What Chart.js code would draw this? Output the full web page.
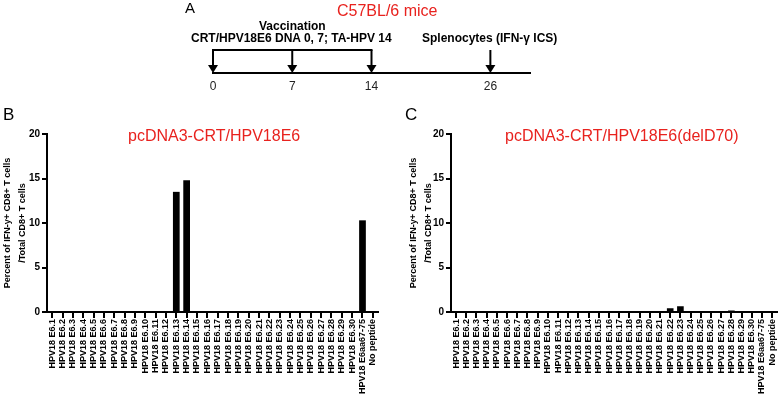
<!DOCTYPE html>
<html><head><meta charset="utf-8">
<script src="https://cdn.jsdelivr.net/npm/chart.js@4/dist/chart.umd.min.js"></script>
<style>
body{margin:0;width:784px;height:397px;position:relative;background:#fff;overflow:hidden;font-family:"Liberation Sans",Arial,sans-serif;color:#000;}
canvas{position:absolute;}
.t{position:absolute;white-space:nowrap;line-height:1;}
.red{color:#e8221e;}
.b{font-weight:bold;}
</style></head><body>
<canvas id="a" width="400" height="100" style="left:170px;top:0"></canvas>
<canvas id="b" width="392" height="297" style="left:0;top:100px"></canvas>
<canvas id="c" width="392" height="297" style="left:392px;top:100px"></canvas>
<div class="t" style="left:185px;top:0;font-size:15px">A</div>
<div class="t red" style="left:337px;top:3px;font-size:16px">C57BL/6 mice</div>
<div class="t b" style="left:259px;top:19.5px;font-size:12px">Vaccination</div>
<div class="t b" style="left:191px;top:31.5px;font-size:12px">CRT/HPV18E6 DNA 0, 7; TA-HPV 14</div>
<div class="t b" style="left:422px;top:31.5px;font-size:12px">Splenocytes (IFN-γ ICS)</div>
<div class="t" style="left:3px;top:106px;font-size:17px">B</div>
<div class="t" style="left:405px;top:106px;font-size:17px">C</div>
<div class="t red" style="left:128px;top:128px;font-size:16px">pcDNA3-CRT/HPV18E6</div>
<div class="t red" style="left:505px;top:128px;font-size:16px">pcDNA3-CRT/HPV18E6(delD70)</div>
<script>
const FONT = '"Liberation Sans", Arial, sans-serif';
// Panel A timeline (not to scale: blank slots keep spacing of the original)
const timelineLabels = ['0','','7','','14','','','26',''];
const vaccinationDays = ['0','7','14'];
const harvestDays = ['26'];

// Panels B and C
const peptides = ['HPV18 E6.1','HPV18 E6.2','HPV18 E6.3','HPV18 E6.4','HPV18 E6.5','HPV18 E6.6','HPV18 E6.7','HPV18 E6.8','HPV18 E6.9','HPV18 E6.10',
  'HPV18 E6.11','HPV18 E6.12','HPV18 E6.13','HPV18 E6.14','HPV18 E6.15','HPV18 E6.16','HPV18 E6.17','HPV18 E6.18','HPV18 E6.19','HPV18 E6.20',
  'HPV18 E6.21','HPV18 E6.22','HPV18 E6.23','HPV18 E6.24','HPV18 E6.25','HPV18 E6.26','HPV18 E6.27','HPV18 E6.28','HPV18 E6.29','HPV18 E6.30',
  'HPV18 E6aa67-75','No peptide'];
const wildTypeValues = [0,0,0,0,0,0,0,0,0,0, 0,0,13.5,14.8,0,0,0,0,0,0, 0,0,0,0,0,0,0,0,0,0, 10.3,0];
const delD70Values   = [0,0,0,0,0,0,0,0,0,0, 0.08,0,0,0,0,0,0,0,0,0, 0,0.42,0.64,0,0,0,0,0.18,0,0, 0,0];
const yTicks = [0,5,10,15,20];
const yTitle = ['Percent of IFN-y+ CD8+ T cells','/Total CD8+ T cells'];

const arrowPlugin = {
  id:'arrows',
  afterDraw(chart){
    const xs = chart.scales.x, ys = chart.scales.y, ctx = chart.ctx;
    const top = ys.getPixelForValue(1), bot = ys.getPixelForValue(0);
    const px = d => xs.getPixelForValue(timelineLabels.indexOf(d));
    ctx.save();
    ctx.strokeStyle = '#000'; ctx.fillStyle = '#000'; ctx.lineWidth = 2;
    ctx.beginPath();
    ctx.moveTo(px(vaccinationDays[0]) - 1, top);
    ctx.lineTo(px(vaccinationDays[vaccinationDays.length-1]) + 1, top);
    ctx.stroke();
    vaccinationDays.concat(harvestDays).forEach(d => {
      const x = px(d);
      ctx.beginPath(); ctx.moveTo(x, top); ctx.lineTo(x, bot - 7); ctx.stroke();
      ctx.beginPath(); ctx.moveTo(x - 5, bot - 8); ctx.lineTo(x + 5, bot - 8); ctx.lineTo(x, bot); ctx.closePath(); ctx.fill();
    });
    ctx.restore();
  }
};

new Chart(document.getElementById('a'), {
  type:'line',
  data:{labels:timelineLabels, datasets:[{data:[]}]},
  options:{responsive:false, animation:false, devicePixelRatio:1,
    layout:{padding:{left:43, right:40, top:50, bottom:0}},
    plugins:{legend:{display:false}, tooltip:{enabled:false}},
    scales:{
      x:{type:'category', offset:false, grid:{display:false, drawTicks:false},
         border:{display:true, color:'#000', width:2},
         ticks:{autoSkip:false, maxRotation:0, color:'#222', padding:6, font:{family:FONT, size:12}},
         afterFit(s){ s.height = 27; }},
      y:{display:false, min:0, max:1}
    }},
  plugins:[arrowPlugin]
});

function barChart(id, values, yWidth, rightPad, titlePad){
  return new Chart(document.getElementById(id), {
    type:'bar',
    data:{labels:peptides, datasets:[{data:values, backgroundColor:'#000', borderWidth:0, barPercentage:0.65, categoryPercentage:1}]},
    options:{responsive:false, animation:false, devicePixelRatio:1,
      layout:{padding:{top:34, right:rightPad, left:0, bottom:0}},
      plugins:{legend:{display:false}, tooltip:{enabled:false}},
      scales:{
        x:{offset:true,
           grid:{display:true, offset:false, drawOnChartArea:false, tickLength:6, color:'#000', lineWidth:2},
           border:{display:true, color:'#000', width:2},
           ticks:{autoSkip:false, minRotation:90, maxRotation:90, color:'#000', padding:1, font:{family:FONT, size:9, weight:'bold'}},
           afterFit(s){ s.height = 85; }},
        y:{min:0, max:20,
           afterBuildTicks(s){ s.ticks = yTicks.map(v => ({value:v})); },
           ticks:{color:'#000', padding:2, font:{family:FONT, size:10, weight:'bold'}},
           grid:{drawOnChartArea:false, tickLength:5, color:'#000', lineWidth:2},
           border:{display:true, color:'#000', width:2},
           title:{display:true, text:yTitle, color:'#000', padding:{top:titlePad, bottom:0}, font:{family:FONT, size:9, weight:'bold', lineHeight:1.65}},
           afterFit(s){ s.width = yWidth; }}
      }}
  });
}
barChart('b', wildTypeValues, 47, 14, 0);
barChart('c', delD70Values, 59, 2, 14);
</script>
</body></html>
